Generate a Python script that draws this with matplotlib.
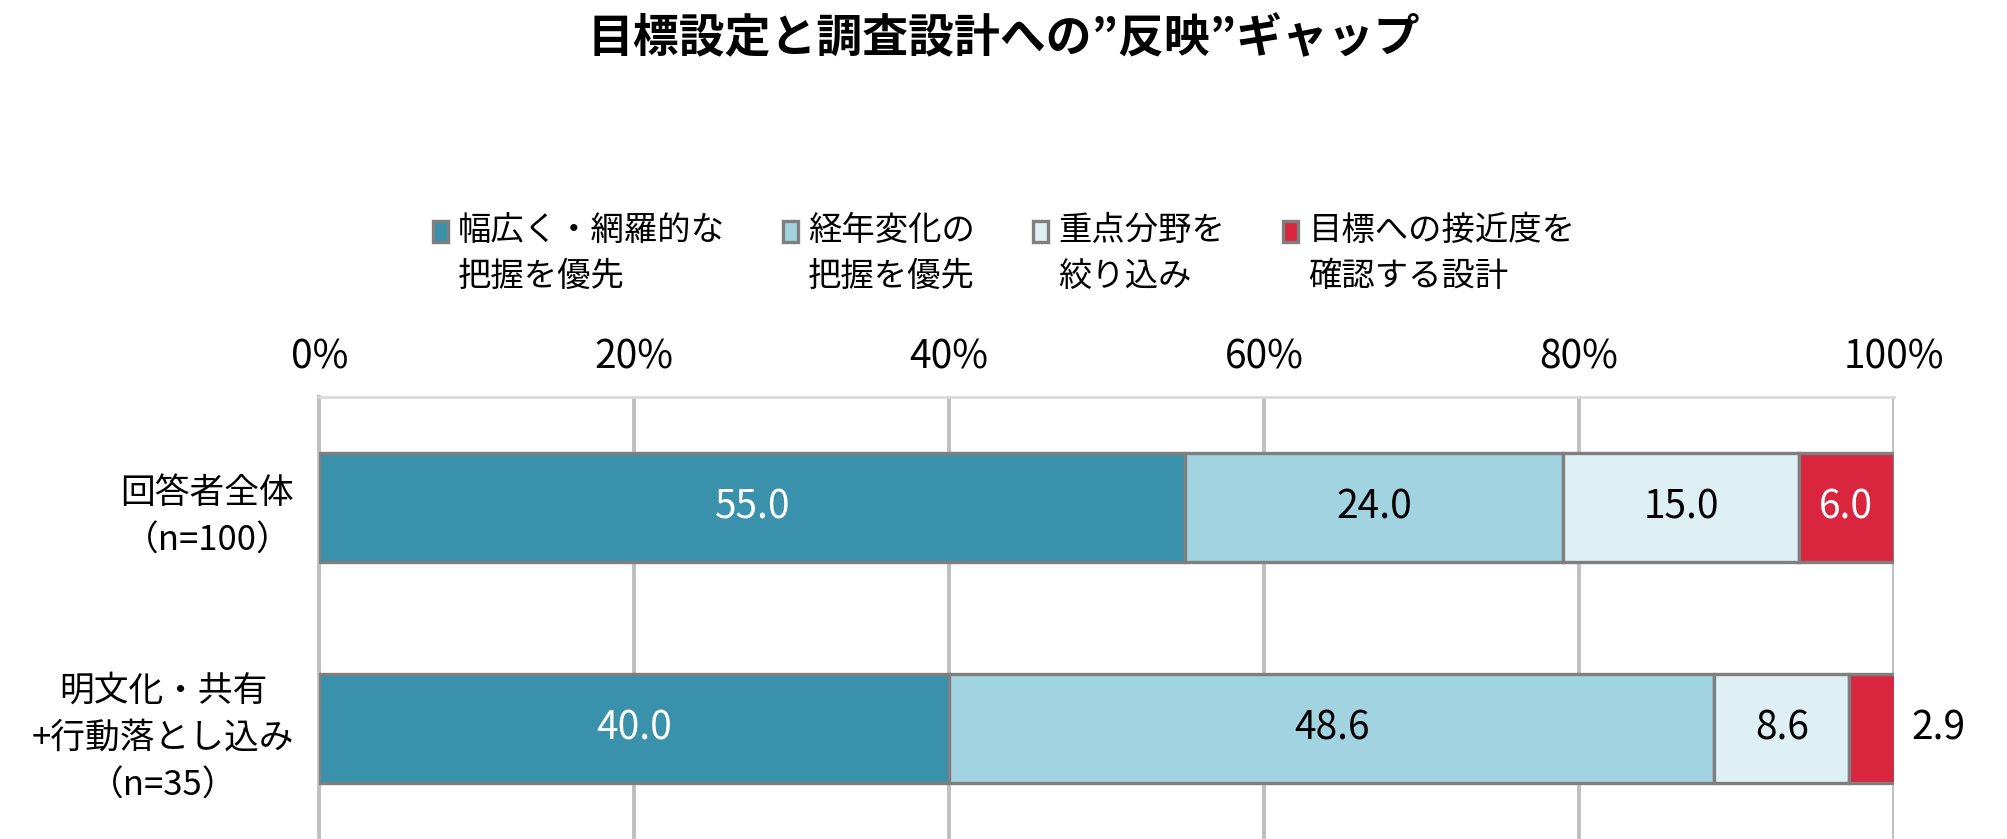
import matplotlib.pyplot as plt
from matplotlib.patches import Rectangle
from matplotlib.legend_handler import HandlerPatch
import numpy as np

plt.rcParams['font.family'] = ['Noto Sans CJK JP', 'DejaVu Sans']

# data
categories = ['回答者全体\n（n=100）', '明文化・共有\n+行動落とし込み\n（n=35）']
series_names = ['幅広く・網羅的な\n把握を優先', '経年変化の\n把握を優先', '重点分野を\n絞り込み', '目標への接近度を\n確認する設計']
values = [
    [55.0, 40.0],
    [24.0, 48.6],
    [15.0, 8.6],
    [6.0, 2.9],
]
colors = ['#3A91AB', '#A2D3E0', '#DFF0F4', '#D9263E']
text_colors = ['white', 'black', 'black', 'white']
xticks = [0, 20, 40, 60, 80, 100]

fig = plt.figure(figsize=(20.08, 8.39), dpi=100)
ax = fig.add_axes([0.159, 0.0, 0.784, 0.527])

y = np.arange(len(categories)) + 0.5
left = np.zeros(len(categories))
handles = []
for i, (name, vals) in enumerate(zip(series_names, values)):
    vals = np.array(vals)
    bars = ax.barh(y, vals, left=left, height=0.49, color=colors[i],
                   edgecolor='#7F7F7F', linewidth=2.4, label=name, zorder=3)
    handles.append(bars.patches[0])
    for j, v in enumerate(vals):
        if v >= 5:
            ax.text(left[j] + v / 2, y[j], f'{v:.1f}', ha='center', va='center',
                    fontsize=28, color=text_colors[i], zorder=4)
        else:
            ax.annotate(f'{v:.1f}', xy=(left[j] + v, y[j]), xytext=(12, 0),
                        textcoords='offset points', ha='left', va='center',
                        fontsize=28, color='black', annotation_clip=False)
    left += vals

ax.set_xlim(0, 100)
ax.set_ylim(len(categories), 0)
ax.set_xticks(xticks)
ax.set_xticklabels([f'{t}%' for t in xticks], fontsize=28)
ax.xaxis.tick_top()
ax.tick_params(axis='x', length=0, pad=14)
ax.set_yticks(y)
ax.set_yticklabels(categories, fontsize=25, multialignment='center', linespacing=1.45)
ax.tick_params(axis='y', length=0, pad=18)
ax.grid(axis='x', color='#BFBFBF', linewidth=2.8, zorder=0)
for s in ['right', 'bottom']:
    ax.spines[s].set_visible(False)
ax.spines['left'].set_color('#BFBFBF')
ax.spines['left'].set_linewidth(2.8)
ax.spines['top'].set_color('#D9D9D9')
ax.spines['top'].set_linewidth(2)


# legend marker sits on the first line of the label
def top_square(legend, orig_handle, xdescent, ydescent, width, height, fontsize):
    return Rectangle((-xdescent, -ydescent + 0.7 * fontsize), width, height)


leg = fig.legend(handles=handles, labels=series_names, loc='center', bbox_to_anchor=(0.5, 0.698),
                 ncol=4, frameon=False, fontsize=24, handlelength=0.45, handleheight=0.6,
                 handletextpad=0.3, columnspacing=1.75,
                 handler_map={h: HandlerPatch(patch_func=top_square) for h in handles})
for t in leg.get_texts():
    t.set_linespacing(1.4)

fig.text(0.5, 0.953, '目標設定と調査設計への”反映”ギャップ', ha='center', va='center',
         fontsize=33, fontweight='bold')

fig.savefig('out.png', dpi=100)
